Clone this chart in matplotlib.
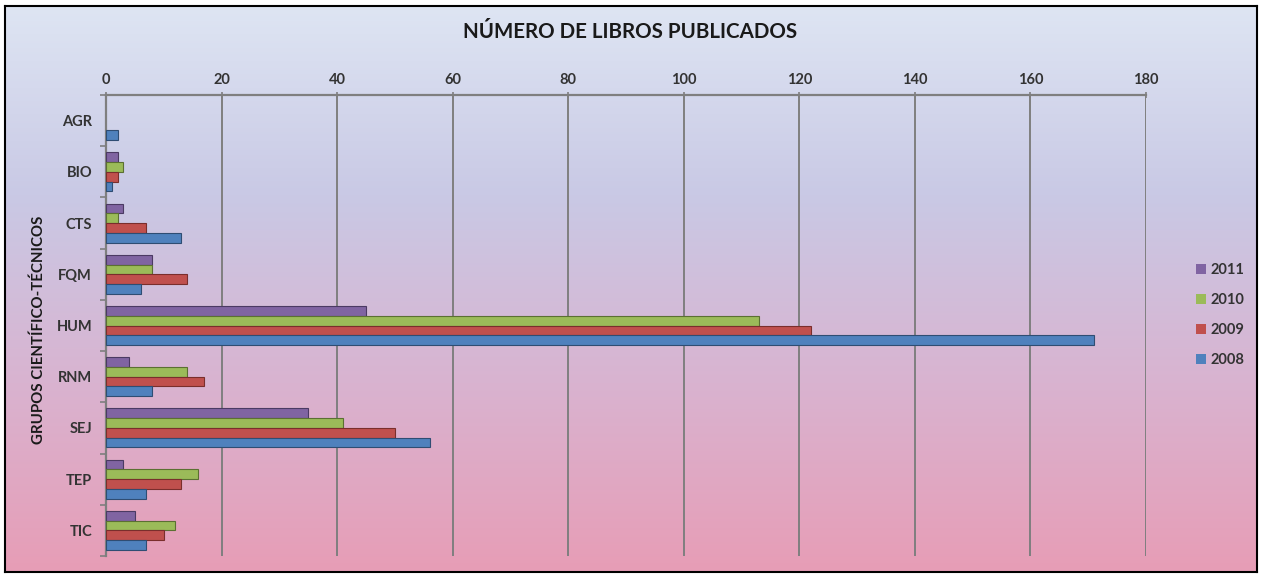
import matplotlib
matplotlib.use("Agg")
import matplotlib.pyplot as plt
from matplotlib.colors import LinearSegmentedColormap
import numpy as np

# Data
groups = ["AGR", "BIO", "CTS", "FQM", "HUM", "RNM", "SEJ", "TEP", "TIC"]
years = ["2011", "2010", "2009", "2008"]
v2011 = [0, 2, 3, 8, 45, 4, 35, 3, 5]
v2010 = [0, 3, 2, 8, 113, 14, 41, 16, 12]
v2009 = [0, 2, 7, 14, 122, 17, 50, 13, 10]
v2008 = [2, 1, 13, 6, 171, 8, 56, 7, 7]

series = [v2011, v2010, v2009, v2008]
colors = ["#8064a2", "#9bbb59", "#c0504d", "#4f81bd"]
edges = ["#4b3a63", "#5b7032", "#7a2e2c", "#2f4d73"]

plt.rcParams['font.family'] = ['Lato', 'DejaVu Sans']

W, H = 1267, 574
fig = plt.figure(figsize=(W / 100, H / 100), dpi=100, facecolor="white")

# gradient background inside the chart border
x0, y0, x1, y1 = 5 / W, 1 - 572 / H, 1257 / W, 1 - 6 / H
bg = fig.add_axes([x0, y0, x1 - x0, y1 - y0], zorder=0)
cmap = LinearSegmentedColormap.from_list(
    "bg", ["#dee5f3", "#c9c9e5", "#d9b3d0", "#e79db6"])
grad = np.linspace(0, 1, 256).reshape(-1, 1)
bg.imshow(grad, aspect="auto", cmap=cmap, extent=[0, 1, 0, 1], origin="upper")
bg.set_xlim(0, 1)
bg.set_ylim(0, 1)
bg.set_xticks([])
bg.set_yticks([])
for s in bg.spines.values():
    s.set_color("black")
    s.set_linewidth(1.5)

ax = fig.add_axes([106 / W, 1 - 556 / H, 1040 / W, 461 / H], zorder=1)
ax.set_facecolor("none")

y = np.arange(len(groups))
h = 0.19
offsets = [-1.5 * h, -0.5 * h, 0.5 * h, 1.5 * h]
for vals, off, c, e, yr in zip(series, offsets, colors, edges, years):
    bars = ax.barh(y + off, vals, height=h, color=c, edgecolor=e,
                   linewidth=0.8, label=yr, zorder=3)
    for b, v in zip(bars, vals):
        if v == 0:
            b.set_linewidth(0)

ax.set_xlim(0, 180)
ax.set_ylim(len(groups) - 0.5, -0.5)
ax.set_xticks(np.arange(0, 181, 20))
ax.xaxis.tick_top()
ax.tick_params(axis="x", colors="#7f7f7f", labelcolor="#333333",
               labelsize=10.5, length=4, width=1.2, direction="inout", pad=4)
ax.grid(axis="x", color="#7f7f7f", linewidth=1.4, zorder=1)

ax.set_yticks(y)
ax.set_yticklabels(groups)
ax.set_yticks(np.arange(-0.5, len(groups)), minor=True)
ax.tick_params(axis="y", which="major", length=0, labelsize=10.5,
               labelcolor="#333333", pad=10)
ax.tick_params(axis="y", which="minor", length=4, width=1.2, colors="#7f7f7f")

for side in ["right", "bottom"]:
    ax.spines[side].set_visible(False)
for side in ["left", "top"]:
    ax.spines[side].set_color("#7f7f7f")
    ax.spines[side].set_linewidth(1.6)

for lbl in ax.get_xticklabels() + ax.get_yticklabels():
    lbl.set_fontweight("bold")

fig.text(630 / W, 1 - 32 / H, "NÚMERO DE LIBROS PUBLICADOS", ha="center",
         va="center", fontsize=14.8, fontweight="bold", color="#1a1a1a")
fig.text(39 / W, 1 - 330 / H, "GRUPOS CIENTÍFICO-TÉCNICOS", rotation=90,
         ha="center", va="center", fontsize=10.8, fontweight="bold",
         color="#1a1a1a")

leg = ax.legend(loc="center left", bbox_to_anchor=(1.035, 0.523), frameon=False,
                handlelength=0.7, handleheight=0.7, handletextpad=0.3,
                labelspacing=1.1, fontsize=10.5)
for t in leg.get_texts():
    t.set_color("#333333")
    t.set_fontweight("bold")
for hd in leg.legend_handles:
    hd.set_edgecolor("none")

fig.savefig("out.png", dpi=100, facecolor="white")
